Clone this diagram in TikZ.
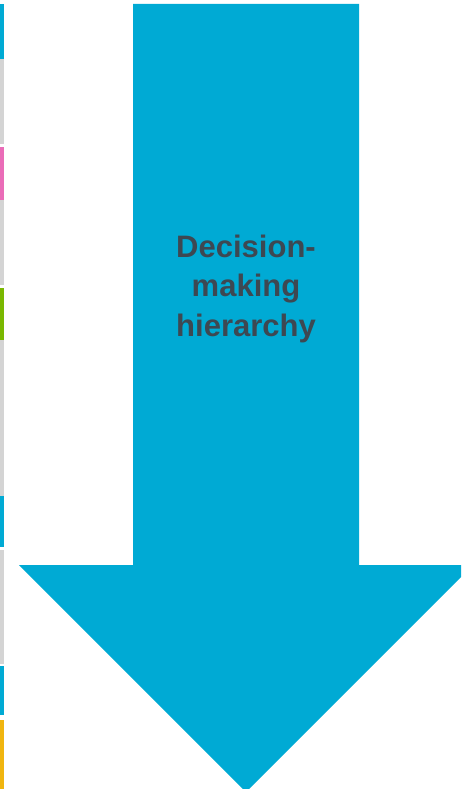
\documentclass[tikz,border=0pt]{standalone}
\usepackage{fontspec}
\setmainfont{Liberation Sans}
\definecolor{arrowblue}{RGB}{0,170,212}
\definecolor{stripgray}{RGB}{212,212,212}
\definecolor{strippink}{RGB}{234,108,184}
\definecolor{stripgreen}{RGB}{122,184,0}
\definecolor{stripyellow}{RGB}{240,181,15}
\definecolor{textgray}{RGB}{61,72,82}
\begin{document}
\begin{tikzpicture}[x=1pt,y=-1pt]
\useasboundingbox (0,0) rectangle (461,789);
\begin{scope}
\clip (0,0) rectangle (461,789);
% left strip
\fill[arrowblue] (0,4) rectangle (4,59);
\fill[stripgray] (0,59) rectangle (4,144);
\fill[strippink] (0,147) rectangle (4,200);
\fill[stripgray] (0,200) rectangle (4,285);
\fill[stripgreen] (0,288) rectangle (4,340);
\fill[stripgray] (0,340) rectangle (4,496);
\fill[arrowblue] (0,496) rectangle (4,547);
\fill[stripgray] (0,550) rectangle (4,664);
\fill[arrowblue] (0,666) rectangle (4,715);
\fill[stripyellow] (0,720) rectangle (4,789);
% arrow
\fill[arrowblue] (133,4) -- (359,4) -- (359,565) -- (473,565) -- (246,792) -- (19,565) -- (133,565) -- cycle;
\end{scope}
\node[text=textgray, font=\fontsize{31}{39.5}\selectfont\bfseries, align=center, anchor=base] (label) at (246,336)
  {Decision-\\making\\hierarchy};
\end{tikzpicture}
\end{document}
